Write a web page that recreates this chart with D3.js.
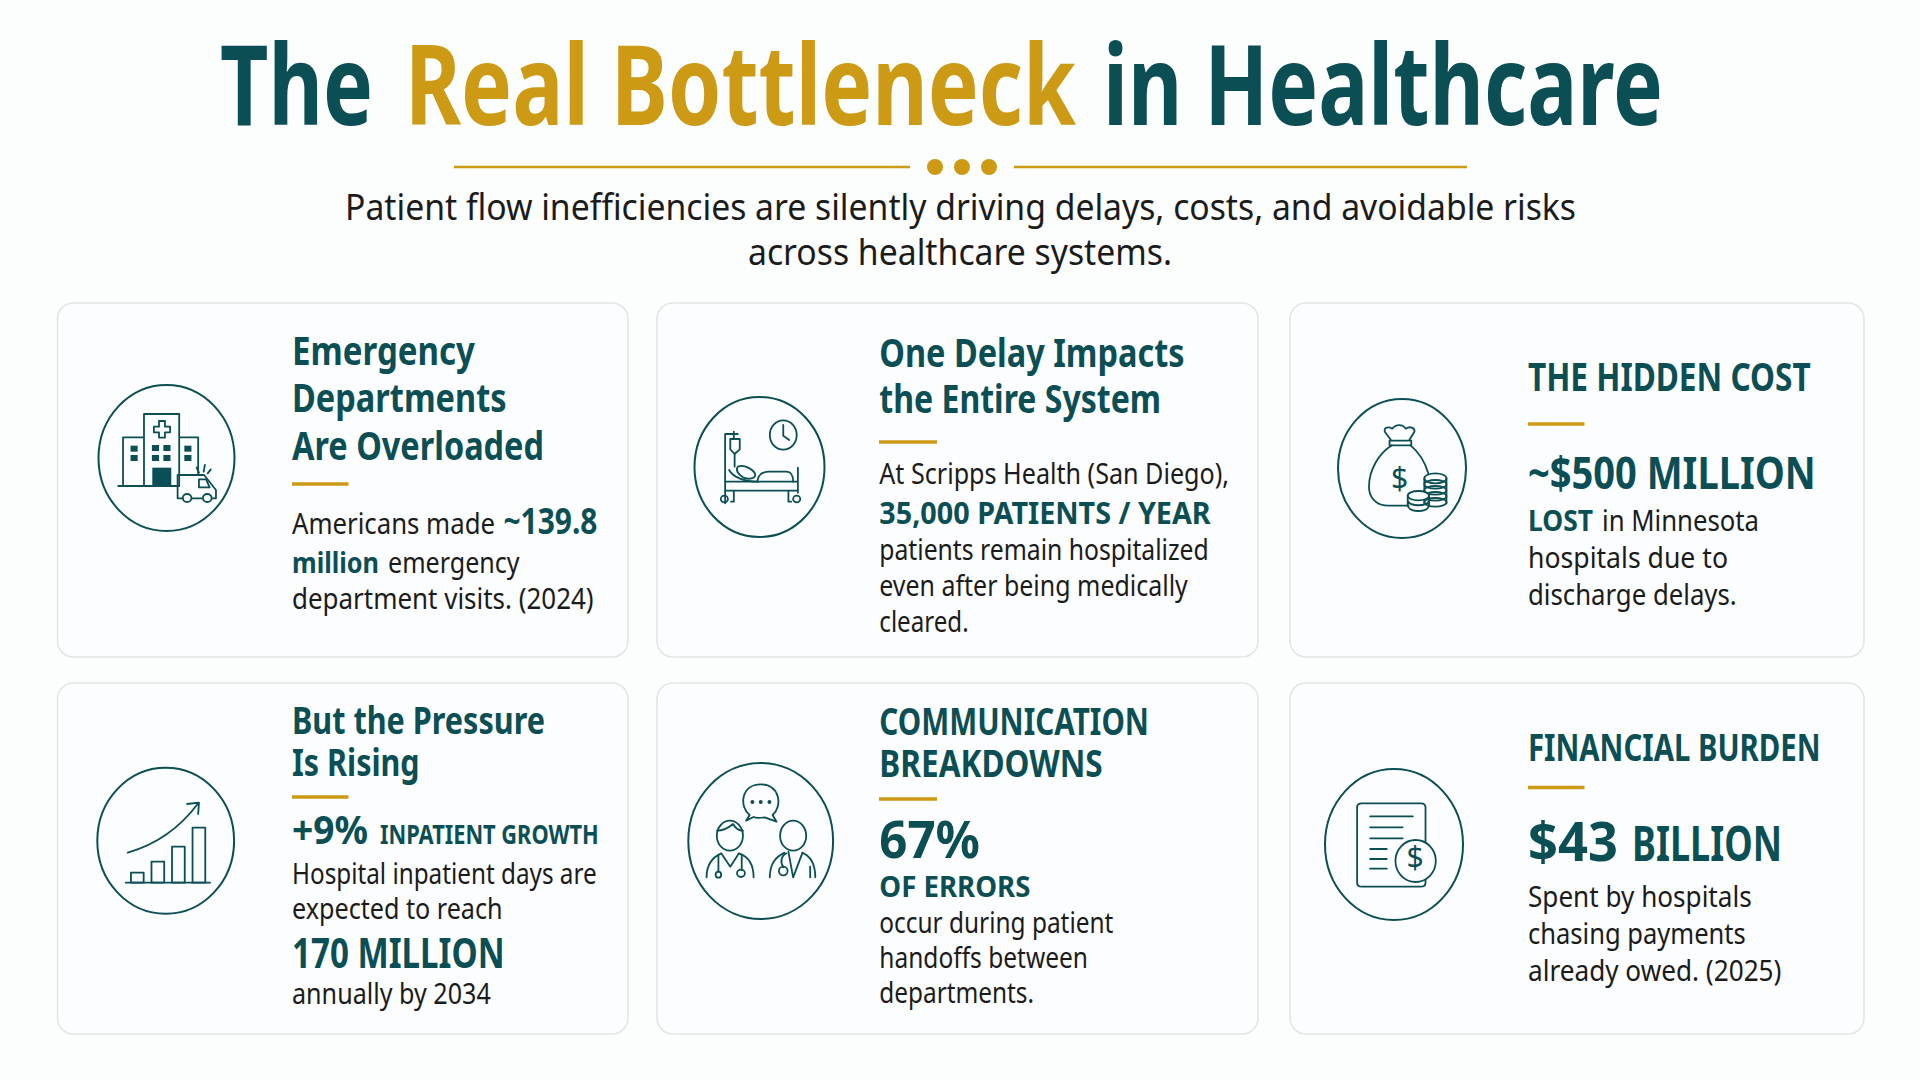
<!DOCTYPE html>
<html>
<head>
<meta charset="utf-8">
<title>The Real Bottleneck in Healthcare</title>
<script src="https://cdn.jsdelivr.net/npm/d3@7"></script>
<style>
  html, body { margin: 0; background: #fcfdfd; }
  svg { display: block; }
  text { font-family: 'Noto Sans', sans-serif; }
</style>
</head>
<body>
<div class="canvas"></div>
<script>
// TEXT
const titleParts = ['The', 'Real Bottleneck', 'in Healthcare'];
const subtitleLines = [
  'Patient flow inefficiencies are silently driving delays, costs, and avoidable risks',
  'across healthcare systems.'
];
const card1Text = ['Emergency', 'Departments', 'Are Overloaded', 'Americans made', '~139.8', 'million', 'emergency', 'department visits. (2024)'];
const card2Text = ['One Delay Impacts', 'the Entire System', 'At Scripps Health (San Diego),', '35,000 PATIENTS / YEAR', 'patients remain hospitalized', 'even after being medically', 'cleared.'];
const card3Text = ['THE HIDDEN COST', '~$500 MILLION', 'LOST', 'in Minnesota', 'hospitals due to', 'discharge delays.'];
const card4Text = ['But the Pressure', 'Is Rising', '+9%', 'INPATIENT GROWTH', 'Hospital inpatient days are', 'expected to reach', '170 MILLION', 'annually by 2034'];
const card5Text = ['COMMUNICATION', 'BREAKDOWNS', '67%', 'OF ERRORS', 'occur during patient', 'handoffs between', 'departments.'];
const card6Text = ['FINANCIAL BURDEN', '$43', 'BILLION', 'Spent by hospitals', 'chasing payments', 'already owed. (2025)'];
const cardTexts = [card1Text, card2Text, card3Text, card4Text, card5Text, card6Text];

// GROWTH ICON BARS
const growthBars = [10, 21, 36, 55];

// COLORS
const teal = '#0b4f55';
const gold = '#cc9a14';
const ink = '#1b1b1b';
const cardFill = '#fcfdfe';

// LAYOUT: [x start, x end, baseline, font size, bold?]
const titleLayout = [
  [220, 373, 125, 112],
  [405, 1076, 125, 112],
  [1103, 1663, 125, 112]
];
const subtitleLayout = [
  [345, 1576, 220, 36],
  [748, 1172, 265, 36]
];
const cardRects = [
  [57.5, 303, 628, 657],
  [657, 303, 1258, 657],
  [1290, 303, 1864, 657],
  [57.5, 683, 628, 1034],
  [657, 683, 1258, 1034],
  [1290, 683, 1864, 1034]
];
const ruleLayout = [
  [292, 348.5, 484],
  [879, 937, 442],
  [1528, 1584.5, 424],
  [292, 348.5, 797],
  [879, 937, 799],
  [1528, 1584.5, 787.5]
];
const runLayouts = [
  [
    [292, 475, 365, 40, 1], [292, 506.6, 412, 40, 1], [292, 544, 460, 40, 1],
    [292, 495, 534, 28.5, 0], [503.4, 597.5, 534, 36, 1],
    [292, 379, 573, 29, 1], [388, 519.6, 573, 28.5, 0],
    [292, 593.6, 609, 28.5, 0]
  ],
  [
    [879.3, 1184.6, 367, 40, 1], [879.3, 1161, 412.7, 40, 1],
    [879.3, 1229, 484.3, 28.5, 0], [879.3, 1210.7, 524.3, 29.5, 1],
    [879.3, 1208.7, 560, 28.5, 0], [879.3, 1187.8, 596, 28.5, 0], [879.3, 968.7, 631.7, 28.5, 0]
  ],
  [
    [1528, 1810.6, 391, 39, 1], [1528, 1815.8, 489, 45, 1],
    [1528, 1593, 531.3, 29, 1], [1602, 1759, 531.3, 28.5, 0],
    [1528, 1728, 568, 28.5, 0], [1528, 1736.7, 605, 28.5, 0]
  ],
  [
    [292, 545, 734, 37, 1], [292, 419.6, 776, 37, 1],
    [292, 368, 844.3, 40, 1], [380, 598.7, 844.3, 26, 1],
    [292, 596.7, 884, 28.5, 0], [292, 502.6, 919, 28.5, 0],
    [292, 504.6, 968, 41, 1], [292, 490.8, 1004, 28.5, 0]
  ],
  [
    [879.3, 1149, 735, 37, 1], [879.3, 1102.7, 776.7, 37, 1],
    [879.3, 980, 858, 52, 1], [879.3, 1030.4, 897, 29, 1],
    [879.3, 1113.4, 933, 28.5, 0], [879.3, 1088, 968, 28.5, 0], [879.3, 1034, 1003, 28.5, 0]
  ],
  [
    [1528, 1820.5, 760.7, 38, 1], [1528, 1618, 861, 54, 1], [1632, 1782, 861, 48, 1],
    [1528, 1751.7, 906.7, 28.5, 0], [1528, 1745.8, 944, 28.5, 0], [1528, 1781.4, 980.7, 28.5, 0]
  ]
];
// ICON RINGS: [cx, cy, rx, ry]
const ringLayout = [
  [166.5, 458, 68, 73],
  [759.5, 467, 65, 70],
  [1402, 468.5, 64, 69.5],
  [165.7, 840.7, 68.4, 73],
  [760.7, 841, 72.4, 78],
  [1394, 844.5, 69, 75.5]
];

const svg = d3
  .select('.canvas')
  .append('svg')
  .attr('width', 1920)
  .attr('height', 1080);

// fits every run to the width it has in the reference
const drawRun = (parent, str, l, fill) => {
  const [x0, x1, y, size, bold] = l;
  parent
    .append('text')
    .attr('x', x0)
    .attr('y', y)
    .attr('font-size', size)
    .attr('font-weight', bold ? 700 : 400)
    .attr('fill', fill)
    .attr('textLength', x1 - x0)
    .attr('lengthAdjust', 'spacingAndGlyphs')
    .text(str);
};

// HEADER
const header = svg.append('g').attr('class', 'header');
titleParts.forEach((t, i) => {
  drawRun(header, t, [...titleLayout[i], 1], i === 1 ? gold : teal);
});

[[454, 910], [1014, 1467]].forEach(([a, b]) => {
  header
    .append('line')
    .attr('x1', a)
    .attr('x2', b)
    .attr('y1', 167)
    .attr('y2', 167)
    .attr('stroke', gold)
    .attr('stroke-width', 2.5);
});
[935, 962, 989].forEach((cx) => {
  header
    .append('circle')
    .attr('cx', cx)
    .attr('cy', 167)
    .attr('r', 8)
    .attr('fill', gold);
});
subtitleLines.forEach((t, i) => {
  drawRun(header, t, [...subtitleLayout[i], 0], ink);
});

// CARDS
const cards = svg
  .selectAll('g.card')
  .data(cardTexts)
  .enter()
  .append('g')
  .attr('class', 'card');

cards
  .append('rect')
  .attr('x', (d, i) => cardRects[i][0])
  .attr('y', (d, i) => cardRects[i][1])
  .attr('width', (d, i) => cardRects[i][2] - cardRects[i][0])
  .attr('height', (d, i) => cardRects[i][3] - cardRects[i][1])
  .attr('rx', 16)
  .attr('fill', cardFill)
  .attr('stroke', '#e4e6e6')
  .attr('stroke-width', 1.6);

cards
  .append('line')
  .attr('x1', (d, i) => ruleLayout[i][0])
  .attr('x2', (d, i) => ruleLayout[i][1])
  .attr('y1', (d, i) => ruleLayout[i][2])
  .attr('y2', (d, i) => ruleLayout[i][2])
  .attr('stroke', gold)
  .attr('stroke-width', 3.5);

cards
  .append('ellipse')
  .attr('cx', (d, i) => ringLayout[i][0])
  .attr('cy', (d, i) => ringLayout[i][1])
  .attr('rx', (d, i) => ringLayout[i][2])
  .attr('ry', (d, i) => ringLayout[i][3])
  .attr('fill', 'none')
  .attr('stroke', teal)
  .attr('stroke-width', 2);

cards.each(function(d, i) {
  const g = d3.select(this);
  d.forEach((t, j) => {
    const l = runLayouts[i][j];
    drawRun(g, t, l, l[4] ? teal : ink);
  });
});

// ICONS
// drawn in the crop grid they were measured on, 2.529 x 3 per page pixel
const iconGroup = (ox, oy) =>
  svg
    .append('g')
    .attr('transform', `translate(${ox},${oy}) scale(${1 / 2.529},${1 / 3})`);

const stroked = (sel) =>
  sel
    .attr('fill', 'none')
    .attr('stroke', teal)
    .attr('stroke-width', 1.8)
    .attr('stroke-linecap', 'round')
    .attr('stroke-linejoin', 'round')
    .attr('vector-effect', 'non-scaling-stroke');

const line = (g, d) => stroked(g.append('path').attr('d', d));
const oval = (g, cx, cy, rx, ry, fill) => {
  const e = stroked(
    g
      .append('ellipse')
      .attr('cx', cx)
      .attr('cy', cy)
      .attr('rx', rx)
      .attr('ry', ry)
  );
  if (fill) e.attr('fill', fill);
  return e;
};
const block = (g, x, y, w, h) =>
  g
    .append('rect')
    .attr('x', x)
    .attr('y', y)
    .attr('width', w)
    .attr('height', h)
    .attr('fill', teal);
const dollar = (x, y) =>
  svg
    .append('text')
    .attr('x', x)
    .attr('y', y)
    .attr('text-anchor', 'middle')
    .attr('font-size', 30)
    .attr('fill', teal)
    .text('$');

// hospital and ambulance
const hospital = iconGroup(40, 290);
line(hospital, 'M210,588V442H263M263,588V372H352V588M352,442H400V555M198,588H350');
line(hospital, 'M301,393H316V410H329V427H316V443H301V427H288V410H301Z');
[[229, 467], [229, 495], [283, 465], [312, 465], [283, 495], [312, 495], [365, 467], [365, 495]].forEach(([x, y]) => {
  block(hospital, x, y, 18, 18);
});
block(hospital, 284, 533, 48, 55);
line(hospital, 'M361,625H348V555H415L445,600V625H436M384,625H410');
line(hospital, 'M402,568H420L429,592H402Z');
oval(hospital, 372, 624, 11, 12);
oval(hospital, 423, 624, 11, 12);
line(hospital, 'M402,548L396,532M414,545L417,525M424,550L432,538');

// hospital bed and clock
const bed = iconGroup(650, 290);
line(bed, 'M190,640V432H222M212,425V447M214,490V530');
line(bed, 'M203,447H227V478L214,492L203,478Z');
oval(bed, 337, 435, 34, 44);
line(bed, 'M337,405V437L352,450');
line(bed, 'M190,575H374M190,602H374M374,533V608M212,605V635H205M350,605V635H357');
oval(bed, 188, 627, 9, 10);
oval(bed, 371, 627, 9, 10);
line(bed, 'M272,575C272,555 285,545 300,545H345C358,545 362,555 362,575');
line(bed, 'M222,530C240,522 262,540 266,552C268,566 250,570 235,562C222,552 216,540 222,530Z');
line(bed, 'M200,540C210,562 240,575 272,575');

// money bag and coins
const bag = iconGroup(1280, 290);
line(bag, 'M283,466C250,490 225,540 225,590C225,625 245,647 275,647H325M330,466C350,485 365,510 375,550');
line(bag, 'M277,452H332V466H277ZM282,452L265,425C262,410 276,410 284,416C293,402 310,402 318,416C328,408 342,412 340,425L326,452');
[565, 583, 601, 619, 637].forEach((y, i) => {
  oval(bag, 393, y, 28, i ? 13 : 15, i ? 'none' : cardFill);
});
line(bag, 'M365,565V640M421,565V640');
oval(bag, 350, 617, 27, 14, cardFill);
line(bag, 'M323,617V648C330,668 370,668 377,648V617M323,633C330,650 370,650 377,633');
dollar(1399.5, 489);

// growth bars
const growth = iconGroup(40, 670);
const barX = d3
  .scaleBand()
  .domain(d3.range(growthBars.length))
  .range([230, 418])
  .paddingInner(0.38);
const barY = d3
  .scaleLinear()
  .domain([0, 55])
  .range([638, 473]);
growthBars.forEach((v, i) => {
  stroked(
    growth
      .append('rect')
      .attr('x', barX(i))
      .attr('y', barY(v))
      .attr('width', barX.bandwidth())
      .attr('height', barY(0) - barY(v))
  );
});
line(growth, 'M217,638H430');
line(growth, 'M222,548C290,525 350,480 400,400M372,402L402,398L400,432');

// two doctors talking
const doctors = iconGroup(650, 670);
line(doctors, 'M252,435C225,410 230,343 280,343C330,343 335,410 310,435L320,455L290,442C275,445 265,443 262,441L243,452Z');
[259, 280, 302].forEach((x) => {
  doctors
    .append('ellipse')
    .attr('cx', x)
    .attr('cy', 396)
    .attr('rx', 5)
    .attr('ry', 6)
    .attr('fill', teal);
});
oval(doctors, 202, 497, 33, 45);
line(doctors, 'M170,482C185,482 200,472 210,462C215,472 225,482 235,482');
line(doctors, 'M143,622C143,575 165,558 180,550L203,590L225,550C245,558 262,575 262,622');
line(doctors, 'M173,555V605M232,555V600');
oval(doctors, 173, 614, 7, 9);
oval(doctors, 230, 610, 10, 11);
oval(doctors, 362, 497, 33, 45);
line(doctors, 'M303,622C303,578 320,560 340,548M385,548C405,558 418,578 418,622');
line(doctors, 'M350,545L362,622L385,550M337,592C328,575 333,555 345,550M405,590V622');
oval(doctors, 337, 603, 11, 13);

// invoice with a coin
const invoice = iconGroup(1280, 670);
line(invoice, 'M207,400H356Q368,400 368,412V638Q368,650 356,650H207Q195,650 195,638V412Q195,400 207,400Z');
[[228, 336, 439], [228, 310, 472], [228, 310, 505], [228, 270, 537], [228, 270, 567], [228, 270, 596]].forEach(([a, b, y]) => {
  line(invoice, `M${a},${y}H${b}`);
});
oval(invoice, 343, 573, 51, 63, cardFill);
dollar(1415, 868);
</script>
</body>
</html>
